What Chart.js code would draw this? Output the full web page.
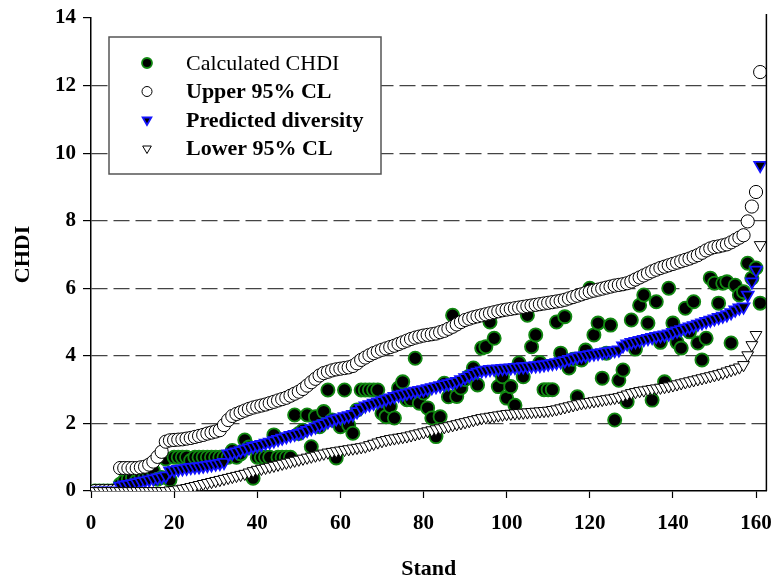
<!DOCTYPE html>
<html>
<head>
<meta charset="utf-8">
<script src="https://cdn.jsdelivr.net/npm/chart.js@4.4.1/dist/chart.umd.min.js"></script>
<style>
  html, body { margin: 0; padding: 0; background: #fff; }
  canvas { display: block; }
</style>
</head>
<body>
<canvas id="chdiChart" width="775" height="581"></canvas>
<script>
// values per stand (stand 1..161, in array order)
const calculated = [
  0, 0, 0, 0, 0, 0, 0.2, 0.3, 0.35, 0.4,
  0.3, 0.45, 0.4, 0.5, 0.6, 0.35, 0.4, 0.95, 0.33, 1.0,
  1.0, 1.0, 1.0, 0.9, 1.0, 1.0, 1.0, 1.0, 1.0, 1.0,
  1.0, 1.0, 1.0, 1.2, 1.0, 1.1, 1.51, 1.3, 0.38, 1.0,
  1.0, 1.0, 1.0, 1.66, 1.0, 1.0, 1.0, 1.0, 2.25, 1.7,
  1.8, 2.25, 1.31, 2.2, 1.9, 2.35, 2.99, 2.1, 0.98, 1.9,
  2.99, 1.95, 1.71, 2.4, 2.99, 2.99, 2.99, 2.99, 2.99, 2.3,
  2.2, 2.5, 2.16, 3.05, 3.23, 2.7, 2.7, 3.93, 2.6, 2.9,
  2.46, 2.16, 1.61, 2.2, 3.19, 2.79, 5.2, 2.8, 3.05, 3.3,
  3.4, 3.64, 3.14, 4.23, 4.27, 5.0, 4.52, 3.09, 3.38, 2.75,
  3.09, 2.54, 3.79, 3.38, 5.2, 4.27, 4.62, 3.8, 3.0, 3.0,
  3.0, 5.0, 4.08, 5.16, 3.64, 3.9, 2.79, 3.88, 4.17, 6.0,
  4.62, 4.97, 3.34, 4.08, 4.91, 2.1, 3.28, 3.58, 2.64, 5.06,
  4.2, 5.5, 5.8, 4.97, 2.69, 5.6, 4.4, 3.23, 6.0, 4.97,
  4.4, 4.23, 5.41, 4.71, 5.6, 4.38, 3.88, 4.52, 6.3, 6.15,
  5.56, 6.15, 6.19, 4.38, 6.09, 5.8, 5.9, 6.74, 6.3, 6.6, 5.56
];
const upperCL = [
  0, 0, 0, 0, 0, 0, 0.68, 0.68, 0.68, 0.68,
  0.68, 0.7, 0.72, 0.78, 0.87, 1.01, 1.16, 1.46, 1.5, 1.51,
  1.52, 1.53, 1.55, 1.57, 1.6, 1.63, 1.66, 1.7, 1.73, 1.76,
  1.8, 1.95, 2.1, 2.22, 2.28, 2.33, 2.38, 2.43, 2.47, 2.5,
  2.53, 2.56, 2.6, 2.64, 2.68, 2.72, 2.76, 2.82, 2.88, 2.94,
  3.02, 3.12, 3.22, 3.32, 3.42, 3.49, 3.53, 3.57, 3.6, 3.62,
  3.64, 3.66, 3.7, 3.78, 3.88, 3.95, 4.02, 4.08, 4.13, 4.18,
  4.22, 4.26, 4.3, 4.35, 4.4, 4.45, 4.5, 4.54, 4.57, 4.6,
  4.62, 4.64, 4.66, 4.7, 4.74, 4.8, 4.86, 4.93, 5.0, 5.06,
  5.1, 5.14, 5.17, 5.2, 5.23, 5.26, 5.29, 5.32, 5.35, 5.37,
  5.39, 5.41, 5.43, 5.45, 5.47, 5.49, 5.51, 5.53, 5.55, 5.57,
  5.59, 5.61, 5.63, 5.66, 5.7, 5.74, 5.78, 5.82, 5.86, 5.9,
  5.93, 5.96, 5.99, 6.02, 6.05, 6.08, 6.1, 6.12, 6.15, 6.2,
  6.26, 6.32, 6.38, 6.44, 6.5, 6.55, 6.6, 6.64, 6.68, 6.72,
  6.76, 6.8, 6.84, 6.88, 6.93, 6.98, 7.05, 7.12, 7.18, 7.22,
  7.24, 7.27, 7.3, 7.36, 7.43, 7.5, 7.57, 7.98, 8.42, 8.85, 12.4
];
const predicted = [
  0, 0, 0, 0, 0, 0, 0.15, 0.18, 0.2, 0.22,
  0.25, 0.28, 0.3, 0.33, 0.36, 0.39, 0.42, 0.45, 0.6, 0.62,
  0.64, 0.66, 0.68, 0.7, 0.71, 0.72, 0.74, 0.76, 0.78, 0.8,
  0.82, 0.85, 1.1, 1.13, 1.16, 1.2, 1.24, 1.28, 1.32, 1.35,
  1.38, 1.42, 1.45, 1.49, 1.53, 1.57, 1.61, 1.65, 1.68, 1.71,
  1.75, 1.8, 1.85, 1.9, 1.95, 2.0, 2.05, 2.1, 2.14, 2.17,
  2.2, 2.23, 2.27, 2.35, 2.45, 2.52, 2.56, 2.6, 2.64, 2.68,
  2.72, 2.76, 2.8, 2.84, 2.87, 2.9, 2.93, 2.96, 2.98, 3.0,
  3.03, 3.06, 3.09, 3.12, 3.15, 3.18, 3.21, 3.25, 3.3, 3.36,
  3.42, 3.48, 3.52, 3.56, 3.58, 3.6, 3.61, 3.62, 3.63, 3.64,
  3.65, 3.66, 3.67, 3.68, 3.69, 3.7, 3.71, 3.72, 3.74, 3.76,
  3.78, 3.8, 3.83, 3.86, 3.9, 3.94, 3.97, 4.0, 4.02, 4.04,
  4.06, 4.08, 4.1, 4.12, 4.14, 4.16, 4.18, 4.3, 4.36, 4.4,
  4.43, 4.46, 4.49, 4.52, 4.55, 4.58, 4.6, 4.62, 4.65, 4.7,
  4.74, 4.78, 4.82, 4.86, 4.9, 4.94, 4.98, 5.02, 5.06, 5.1,
  5.14, 5.18, 5.22, 5.28, 5.36, 5.42, 5.45, 5.8, 6.19, 6.54, 9.64
];
const lowerCL = [
  0, 0, 0, 0, 0, 0, 0, 0, 0, 0,
  0, 0, 0, 0, 0, 0, 0, 0, 0.02, 0.03,
  0.05, 0.07, 0.09, 0.12, 0.15, 0.18, 0.21, 0.24, 0.27, 0.3,
  0.33, 0.36, 0.39, 0.42, 0.45, 0.48, 0.51, 0.55, 0.59, 0.63,
  0.66, 0.69, 0.72, 0.75, 0.78, 0.81, 0.84, 0.87, 0.9, 0.93,
  0.96, 0.99, 1.02, 1.05, 1.08, 1.11, 1.14, 1.16, 1.18, 1.2,
  1.22, 1.24, 1.26, 1.28, 1.3, 1.32, 1.36, 1.4, 1.44, 1.48,
  1.51, 1.54, 1.56, 1.58, 1.6, 1.62, 1.65, 1.68, 1.71, 1.74,
  1.77, 1.8, 1.83, 1.86, 1.89, 1.92, 1.95, 1.98, 2.01, 2.04,
  2.07, 2.1, 2.13, 2.16, 2.18, 2.2, 2.22, 2.24, 2.26, 2.28,
  2.29, 2.3, 2.31, 2.32, 2.33, 2.34, 2.35, 2.36, 2.37, 2.38,
  2.4, 2.42, 2.45, 2.48, 2.51, 2.54, 2.57, 2.6, 2.62, 2.64,
  2.66, 2.68, 2.7, 2.72, 2.74, 2.76, 2.78, 2.82, 2.86, 2.9,
  2.93, 2.96, 2.98, 3.0, 3.02, 3.04, 3.06, 3.08, 3.1, 3.13,
  3.16, 3.19, 3.22, 3.25, 3.28, 3.31, 3.34, 3.37, 3.4, 3.43,
  3.46, 3.5, 3.54, 3.58, 3.62, 3.66, 3.73, 4.02, 4.32, 4.62, 7.28
];
const xTicks = [0, 20, 40, 60, 80, 100, 120, 140, 160];
const yTicks = [0, 2, 4, 6, 8, 10, 12, 14];
const seriesNames = ['Calculated CHDI', 'Upper 95% CL', 'Predicted diversity', 'Lower 95% CL'];

const serif = "'Liberation Serif', 'Times New Roman', serif";
function toPoints(arr){ return arr.map((v, i) => ({ x: i + 1, y: v })); }

// legend box drawn by hand (one label normal, the rest bold)
const boxLegend = {
  id: 'boxLegend',
  afterDraw(chart){
    const ctx = chart.ctx;
    const L = 109, T = 37, W = 272, H = 137;
    ctx.save();
    ctx.fillStyle = '#fff';
    ctx.fillRect(L, T, W, H);
    ctx.strokeStyle = '#555';
    ctx.lineWidth = 1.5;
    ctx.strokeRect(L, T, W, H);
    const rows = [63, 91.5, 120, 148.5];
    chart.data.datasets.forEach((ds, i) => {
      const y = rows[i];
      ctx.fillStyle = ds.backgroundColor;
      ctx.strokeStyle = ds.borderColor;
      ctx.lineWidth = ds.borderWidth;
      Chart.helpers.drawPoint(ctx, { pointStyle: ds.pointStyle, radius: 5, rotation: ds.rotation || 0, borderWidth: ds.borderWidth }, 147, y);
      ctx.fillStyle = '#000';
      ctx.textBaseline = 'middle';
      ctx.textAlign = 'left';
      ctx.font = (i === 0 ? '' : 'bold ') + '22px ' + serif;
      ctx.fillText(ds.label, 186, y + 1);
    });
    ctx.restore();
  }
};

// right frame line of the plot
const rightFrame = {
  id: 'rightFrame',
  afterDatasetsDraw(chart){
    const a = chart.chartArea, ctx = chart.ctx;
    ctx.save();
    ctx.strokeStyle = '#000';
    ctx.lineWidth = 1.5;
    ctx.beginPath();
    ctx.moveTo(a.right, a.top - 4);
    ctx.lineTo(a.right, a.bottom);
    ctx.stroke();
    ctx.restore();
  }
};

new Chart(document.getElementById('chdiChart'), {
  type: 'scatter',
  data: {
    datasets: [
      { label: seriesNames[0], data: toPoints(calculated), pointStyle: 'circle', pointRadius: 6.6,
        backgroundColor: '#000', borderColor: '#118811', borderWidth: 1.8, order: 4 },
      { label: seriesNames[1], data: toPoints(upperCL), pointStyle: 'circle', pointRadius: 6.6,
        backgroundColor: '#fff', borderColor: '#000', borderWidth: 1, order: 3 },
      { label: seriesNames[2], data: toPoints(predicted), pointStyle: 'triangle', rotation: 180, pointRadius: 6.8,
        backgroundColor: '#000', borderColor: '#1515ff', borderWidth: 1.8, order: 2 },
      { label: seriesNames[3], data: toPoints(lowerCL), pointStyle: 'triangle', rotation: 180, pointRadius: 6.8,
        backgroundColor: '#fff', borderColor: '#000', borderWidth: 1, order: 1 }
    ]
  },
  options: {
    responsive: false,
    animation: false,
    events: [],
    layout: { padding: { left: 0, right: 7, top: 18, bottom: 0 } },
    plugins: { legend: { display: false }, tooltip: { enabled: false } },
    scales: {
      x: {
        type: 'linear', min: 0, max: 162.5,
        afterFit: s => { s.height = 90; s.paddingLeft = 0; s.paddingRight = 0; },
        afterBuildTicks: s => { s.ticks = xTicks.map(v => ({ value: v })); },
        ticks: { color: '#000', font: { family: serif, size: 21, weight: 'bold' }, padding: 13, maxRotation: 0, includeBounds: false },
        grid: { drawOnChartArea: false, drawTicks: true, tickLength: 7, tickColor: '#000', tickWidth: 1.2 },
        border: { display: true, color: '#000', width: 1.5 },
        title: { display: true, text: 'Stand', color: '#000', font: { family: serif, size: 22, weight: 'bold' }, padding: { top: 0, bottom: -2 } }
      },
      y: {
        min: 0, max: 14,
        afterFit: s => { s.width = 91; s.paddingTop = 0; s.paddingBottom = 0; },
        afterBuildTicks: s => { s.ticks = yTicks.map(v => ({ value: v })); },
        ticks: { color: '#000', font: { family: serif, size: 21, weight: 'bold' }, padding: 7 },
        grid: {
          drawTicks: true, tickLength: 8, tickWidth: 1.2, tickColor: '#000', tickBorderDash: [],
          lineWidth: 1.2,
          color: ctx => (ctx.tick && (ctx.tick.value === 0 || ctx.tick.value === 14)) ? 'rgba(0,0,0,0)' : '#444'
        },
        border: { display: true, color: '#000', width: 1.5, dash: [16, 6] },
        title: { display: true, text: 'CHDI', color: '#000', font: { family: serif, size: 22, weight: 'bold' }, padding: { top: 10, bottom: 0 } }
      }
    }
  },
  plugins: [rightFrame, boxLegend]
});
</script>
</body>
</html>
